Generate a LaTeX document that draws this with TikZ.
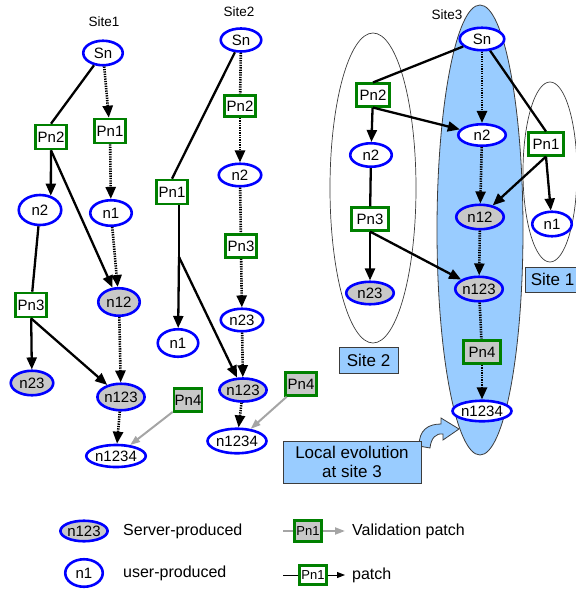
\documentclass[tikz,border=0pt]{standalone}
\usepackage{fontspec}
\setmainfont{Liberation Sans}
\usetikzlibrary{shapes.geometric,arrows.meta}
\definecolor{srvgray}{RGB}{200,200,200}
\definecolor{pgreen}{RGB}{0,128,0}
\definecolor{lblue}{RGB}{153,204,255}
\definecolor{vgray}{RGB}{165,165,165}
\definecolor{outl}{RGB}{60,60,60}
\newcommand{\nodefont}{\fontsize{15}{17}\selectfont}
\newcommand{\legfont}{\fontsize{16}{18}\selectfont}
\newcommand{\boxfont}{\fontsize{17}{19}\selectfont}
\newcommand{\sitefont}{\fontsize{13.5}{15}\selectfont}
\begin{document}
\begin{tikzpicture}[x=1pt,y=-1pt,
  ell/.style={ellipse, draw=blue, line width=2.6pt, fill=white, inner sep=0pt,
    minimum width=42pt, minimum height=26pt, font=\nodefont},
  srv/.style={ell, fill=srvgray},
  sz/.style 2 args={minimum width=#1pt, minimum height=#2pt},
  patchbox/.style={rectangle, draw=pgreen, line width=2.6pt, fill=white, inner sep=0pt,
    minimum width=31pt, minimum height=24pt, font=\nodefont},
  vpatch/.style={patchbox, fill=srvgray},
  sitebox/.style={rectangle, draw=outl, line width=0.8pt, fill=lblue, inner sep=0pt,
    font=\boxfont, align=center},
  sol/.style={line width=2.3pt},
  arr/.style={sol, -{Triangle[length=12pt,width=10pt]}},
  dot/.style={line width=2.6pt, dash pattern=on 1.3pt off 1.1pt},
  darr/.style={dot, -{Triangle[length=12pt,width=10pt]}},
  varr/.style={line width=2pt, vgray, -{Triangle[length=10pt,width=7pt]}},
  lbl/.style={inner sep=0pt, anchor=west, font=\legfont},
  sitelbl/.style={inner sep=0pt, font=\sitefont}
]
\useasboundingbox (0,0) rectangle (576,590);
\clip (0,0) rectangle (576,590);

% ---------- background regions ----------
\draw[draw=outl, line width=0.7pt] (373,188) ellipse [x radius=43, y radius=155];
\draw[draw=outl, line width=0.7pt] (550,172) ellipse [x radius=27, y radius=90];
\draw[fill=lblue, draw=outl, line width=0.8pt] (480,230) ellipse [x radius=43, y radius=225];

% ---------- Site 1 ----------
\node[sitelbl] (t1) at (104,22) {Site1};
\node[ell, sz={39.5}{24.5}] (aSn) at (103,53) {Sn};
\node[patchbox] (aPn2) at (51,137) {Pn2};
\node[patchbox] (aPn1) at (110,131) {Pn1};
\node[ell, sz={42.5}{30}] (an2) at (40,210) {n2};
\node[ell, sz={41.5}{25.5}] (an1) at (111,213) {n1};
\node[patchbox] (aPn3) at (31,305) {Pn3};
\node[srv, sz={41.5}{27.5}] (an12) at (119,302) {n12};
\node[srv, sz={42.5}{24.5}] (an23) at (32,383) {n23};
\node[srv, sz={41.5}{26.5}] (an123) at (121,397) {n123};
\node[vpatch, sz={28}{23}] (aPn4) at (188,400) {Pn4};
\node[ell, sz={59.5}{22}] (an1234) at (116,456) {n1234};

\draw[sol] (aSn) -- (aPn2.north);
\draw[darr] (aSn) -- (aPn1);
\draw[arr] (aPn2.south) -- (an2.53);
\draw[arr] (aPn2.south) -- (an12);
\draw[darr] (aPn1) -- (an1);
\draw[darr] (an1) -- (an12);
\draw[sol] (an2) -- (aPn3);
\draw[arr] (aPn3) -- (an23);
\draw[arr] (aPn3.south) -- (an123);
\draw[darr] (an12) -- (an123);
\draw[darr] (an123) -- (an1234);
\draw[varr] (aPn4) -- (an1234);

% ---------- Site 2 ----------
\node[sitelbl] (t2) at (239,12) {Site2};
\node[ell, sz={40.5}{23}] (bSn) at (241,40) {Sn};
\node[patchbox, sz={31.5}{21}] (bPn2) at (240,106) {Pn2};
\node[ell, sz={42.5}{22.5}] (bn2) at (240,175) {n2};
\node[patchbox] (bPn1) at (172,192) {Pn1};
\node[patchbox, sz={30.5}{23}] (bPn3) at (241,246) {Pn3};
\node[ell, sz={42.5}{22.5}] (bn23) at (242,320) {n23};
\node[ell, sz={40.5}{27.5}] (bn1) at (178,343) {n1};
\node[srv, sz={43.5}{23}] (bn123) at (243,390) {n123};
\node[vpatch, sz={31.5}{23}] (bPn4) at (301,384) {Pn4};
\node[ell, sz={49.5}{24.5}] (bn1234) at (237,441) {n1234};
\coordinate (bsplit) at (179,257);

\draw[sol] (bSn) -- (bPn1.north);
\draw[dot] (bSn) -- (bPn2);
\draw[darr] (bPn2) -- (bn2);
\draw[dot] (bn2) -- (bPn3);
\draw[darr] (bPn3) -- (bn23);
\draw[darr] (bn23) -- (bn123);
\draw[sol] (bPn1.south -| bsplit) -- (bsplit);
\draw[arr] (bsplit) -- (bn1);
\draw[arr] (bsplit) -- (bn123);
\draw[darr] (bn123) -- (bn1234);
\draw[varr] (bPn4) -- (bn1234);

% ---------- Site 3 ----------
\node[sitelbl] (t3) at (447,15) {Site3};
\node[ell, sz={44.5}{22.5}] (cSn) at (482,39) {Sn};
\node[patchbox, sz={33.5}{22.5}] (cPn2) at (373,95) {Pn2};
\node[ell, sz={47.5}{21.5}] (cn2c) at (482,135) {n2};
\node[patchbox, sz={35.5}{22.5}] (cPn1) at (546,144) {Pn1};
\node[ell, sz={41.5}{23.5}] (cn2l) at (371,155) {n2};
\node[patchbox, sz={36.5}{22.5}] (cPn3) at (370,219) {Pn3};
\node[srv, sz={47.5}{24.5}] (cn12c) at (480,217) {n12};
\node[ell, sz={39.5}{24.5}] (cn1r) at (552,224) {n1};
\node[srv, sz={47.5}{24.5}] (cn123c) at (479,289) {n123};
\node[srv, sz={47.5}{22.5}] (cn23l) at (370,293) {n23};
\node[vpatch, sz={36.5}{23.5}] (cPn4) at (482,352) {Pn4};
\node[ell, sz={47.5}{20.5}] (cn1234c) at (482,411) {n1234};

\draw[sol] (cSn) -- (cPn2.north);
\draw[darr] (cSn) -- (cn2c);
\draw[sol] (cSn) -- (cPn1.north);
\draw[arr] (cPn2) -- (cn2l);
\draw[arr] (cPn2.south) -- (cn2c);
\draw[sol] (cn2l) -- (cPn3);
\draw[arr] (cPn3) -- (cn23l);
\draw[arr] (cPn3.south) -- (cn123c);
\draw[darr] (cn2c) -- (cn12c);
\draw[arr] (cPn1.south) -- (cn12c);
\draw[arr] (cPn1.south) -- (cn1r);
\draw[darr] (cn12c) -- (cn123c);
\draw[dot] (cn123c) -- (cPn4);
\draw[darr] (cPn4) -- (cn1234c);

% site boxes
\node[sitebox, minimum width=55pt, minimum height=25pt] (s1box) at (552.5,279.5) {Site 1};
\node[sitebox, minimum width=59pt, minimum height=26pt] (s2box) at (368.5,360) {Site 2};

% callout arrow
\draw[fill=lblue, draw=outl, line width=0.8pt]
  (419,446) .. controls (419,430) and (428,424) .. (441,424)
  -- (441,418) -- (459,429) -- (443,440) -- (443,434)
  .. controls (436,433) and (431,438) .. (430,448) -- cycle;
\node[sitebox, minimum width=138pt, minimum height=42pt] (loc) at (352,462)
  {Local evolution\\at site 3};

% ---------- legend ----------
\node[srv, sz={38.5}{20.5}] (lgS) at (84,531) {n123};
\node[lbl] (lgSt) at (123,531) {Server-produced};
\node[ell, sz={37.5}{27.5}] (lgU) at (84,573) {n1};
\node[lbl] (lgUt) at (123,573) {user-produced};

\node[vpatch, sz={27.5}{21.5}, font=\fontsize{13}{15}\selectfont] (lgV) at (308,531) {Pn1};
\coordinate (lgV1) at (283,531);
\coordinate (lgV2) at (345,531);
\draw[line width=2.2pt, vgray] (lgV1) -- (lgV);
\draw[varr] (lgV) -- (lgV2);
\node[lbl] (lgVt) at (352,531) {Validation patch};

\node[patchbox, sz={27.5}{19.5}, font=\fontsize{13}{15}\selectfont] (lgP) at (313,575) {Pn1};
\coordinate (lgP1) at (283,575);
\coordinate (lgP2) at (345,575);
\draw[line width=1pt] (lgP1) -- (lgP);
\draw[line width=1pt, -{Triangle[length=8pt,width=6pt]}] (lgP) -- (lgP2);
\node[lbl] (lgPt) at (352,575) {patch};
\end{tikzpicture}
\end{document}
